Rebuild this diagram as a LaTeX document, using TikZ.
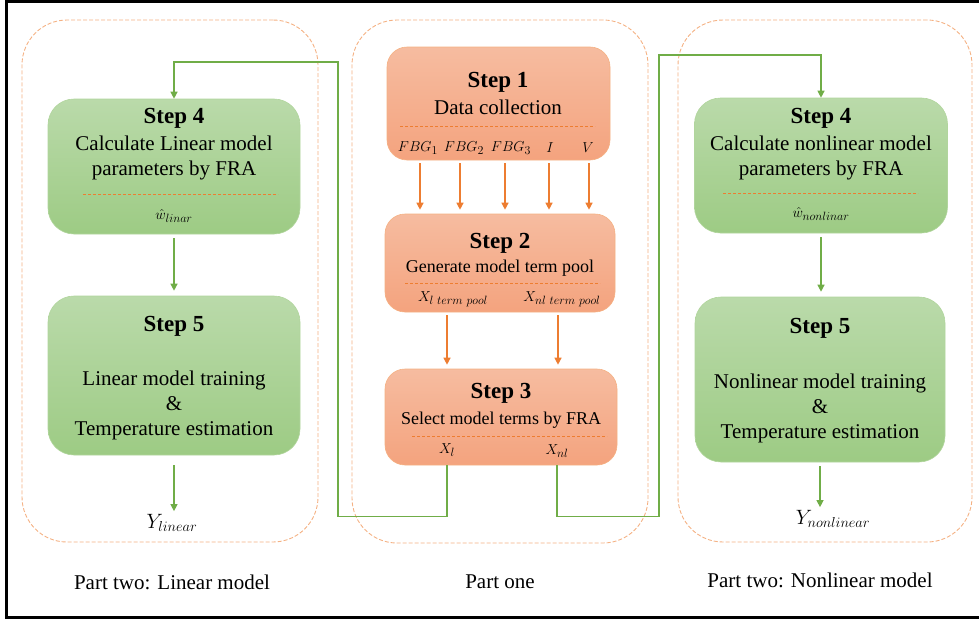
\documentclass[tikz,border=0pt]{standalone}
\usepackage{fontspec}
\setmainfont{Liberation Serif}
\usepackage{tikz}
\usetikzlibrary{calc,positioning,arrows.meta,shapes}
\DeclareMathSizes{15}{14.4}{12}{9}
\DeclareMathSizes{20}{20.74}{14.4}{12}
\definecolor{boxorange}{RGB}{237,125,49}
\definecolor{dashorange}{RGB}{244,177,131}
\definecolor{orangetop}{RGB}{246,188,160}
\definecolor{orangebot}{RGB}{244,163,126}
\definecolor{greentop}{RGB}{186,218,170}
\definecolor{greenbot}{RGB}{157,203,132}
\definecolor{linegreen}{RGB}{112,173,71}
\tikzset{
    >={Triangle[width=7pt,length=7pt]},
    partbox/.style={
      rectangle,
      rounded corners=45pt,
      draw=dashorange, line width=0.9pt,
      dash pattern=on 4pt off 2pt},
    orangestep/.style={
      rectangle,
      rounded corners=20pt,
      draw=dashorange, line width=0.6pt,
      top color=orangetop,
      bottom color=orangebot},
    greenstep/.style={
      rectangle,
      rounded corners=26pt,
      draw=greenbot!80!white, line width=0.6pt,
      top color=greentop,
      bottom color=greenbot},
    steptitle/.style={font=\fontsize{23}{25}\selectfont\bfseries, inner sep=0pt},
    steptext/.style={font=\fontsize{21}{25}\selectfont, align=center, inner sep=0pt},
    smalltext/.style={font=\fontsize{18}{21}\selectfont, align=center, inner sep=0pt},
    mathlabel/.style={font=\fontsize{15}{17}\selectfont, inner sep=0pt},
    outlabel/.style={font=\fontsize{20}{22}\selectfont, inner sep=0pt},
    sepline/.style={draw=boxorange, line width=0.8pt, dash pattern=on 3pt off 2pt},
    orangeline/.style={draw=boxorange, line width=1.2pt, ->, shorten <=3pt, shorten >=4pt},
    greenline/.style={draw=linegreen, line width=1.2pt, ->},
}

\begin{document}
\begin{tikzpicture}[x=1pt, y=-1pt]
      \useasboundingbox (0,0) rectangle (979,621);
      % frame
      \draw[line width=3pt] (979,1) -- (6,1) -- (6,617) -- (979,617);

      % the three parts
      \node[partbox, minimum width=296, minimum height=522] (partlin) at (170,281) {};
      \node[partbox, minimum width=296, minimum height=523] (partone) at (500,281.5) {};
      \node[partbox, minimum width=294, minimum height=522] (partnl)  at (825,281) {};

      % part one
      \node[orangestep, minimum width=223, minimum height=113] (step1) at (498.5,103.5) {};
      \node[steptitle] (title1) at (498,82)  {Step 1};
      \node[steptext]  (text1)  at (498,107) {Data collection};
      \draw[sepline] (400,126) -- (595,126);
      \node[mathlabel] (fbg1) at (418,148) {$FBG_1$};
      \node[mathlabel] (fbg2) at (464,148) {$FBG_2$};
      \node[mathlabel] (fbg3) at (511,148) {$FBG_3$};
      \node[mathlabel] (curr) at (550,148) {$I$};
      \node[mathlabel] (volt) at (588,148) {$V$};

      \node[orangestep, minimum width=230, minimum height=98] (step2) at (500,263) {};
      \node[steptitle] (title2) at (500,243) {Step 2};
      \node[smalltext] (text2)  at (500,268) {Generate model term pool};
      \draw[sepline] (405,283) -- (600,283);
      \node[mathlabel] (xlpool)  at (453,299) {$X_{l\ term\ pool}$};
      \node[mathlabel] (xnlpool) at (562,299) {$X_{nl\ term\ pool}$};

      \node[orangestep, minimum width=232, minimum height=96] (step3) at (501,417) {};
      \node[steptitle] (title3) at (501,393) {Step 3};
      \node[smalltext] (text3)  at (501,420) {Select model terms by FRA};
      \draw[sepline] (412,436) -- (607,436);
      \node[mathlabel] (xl)  at (447,450) {$X_l$};
      \node[mathlabel] (xnl) at (557,451) {$X_{nl}$};

      \foreach \x in {420,460,505,549,589}
        \draw[orangeline] (\x,0 |- step1.south) -- (\x,0 |- step2.north);
      \foreach \x in {447,558}
        \draw[orangeline] (\x,0 |- step2.south) -- (\x,0 |- step3.north);

      % part two: linear
      \node[greenstep, minimum width=252, minimum height=135] (s4lin) at (174,166.5) {};
      \node[steptitle] (title4lin) at (174,118)   {Step 4};
      \node[steptext]  (text4lin)  at (174,157.5) {Calculate Linear model\\parameters by FRA};
      \draw[sepline] (83,194) -- (278,194);
      \node[mathlabel] (wlin) at (174,216) {$\hat{w}_{linar}$};

      \node[greenstep, minimum width=252, minimum height=159] (s5lin) at (174,375.5) {};
      \node[steptitle] (title5lin) at (174,326) {Step 5};
      \node[steptext]  (text5lin)  at (174,405) {Linear model training\\\&\\Temperature estimation};

      \node[outlabel] (ylin) at (172,523) {$Y_{linear}$};
      \node[steptext] (plin) at (172,582) {Part two: Linear model};

      % part two: nonlinear
      \node[greenstep, minimum width=253, minimum height=135] (s4nl) at (821,165.5) {};
      \node[steptitle] (title4nl) at (821,118)   {Step 4};
      \node[steptext]  (text4nl)  at (821,157.5) {Calculate nonlinear model\\parameters by FRA};
      \draw[sepline] (723,193) -- (918,193);
      \node[mathlabel] (wnl) at (821,214) {$\hat{w}_{nonlinar}$};

      \node[greenstep, minimum width=250, minimum height=165] (s5nl) at (820,379.5) {};
      \node[steptitle] (title5nl) at (820,328) {Step 5};
      \node[steptext]  (text5nl)  at (820,408) {Nonlinear model training\\\&\\Temperature estimation};

      \node[outlabel] (ynl) at (833,519) {$Y_{nonlinear}$};
      \node[steptext] (pnl) at (820,580) {Part two: Nonlinear model};

      \node[steptext] (pone) at (500,582) {Part one};

      % connectors
      \draw[greenline, shorten <=4pt, shorten >=5pt] (s4lin) -- (s5lin);
      \draw[greenline, shorten <=10pt, shorten >=3pt] (s5lin.south) -- (ylin.north -| s5lin.south);
      \draw[greenline, shorten <=4pt, shorten >=5pt] (s4nl.south) -- (s4nl.south |- s5nl.north);
      \draw[greenline, shorten <=4pt, shorten >=3pt] (s5nl.south) -- (ynl.north -| s5nl.south);
      \draw[greenline] (xl |- step3.south) -- ++(0,51) -| (338,62) -| (s4lin.north);
      \draw[greenline] (xnl |- step3.south) -- ++(0,51) -| (659,55) -| (s4nl.north);
\end{tikzpicture}
\end{document}
